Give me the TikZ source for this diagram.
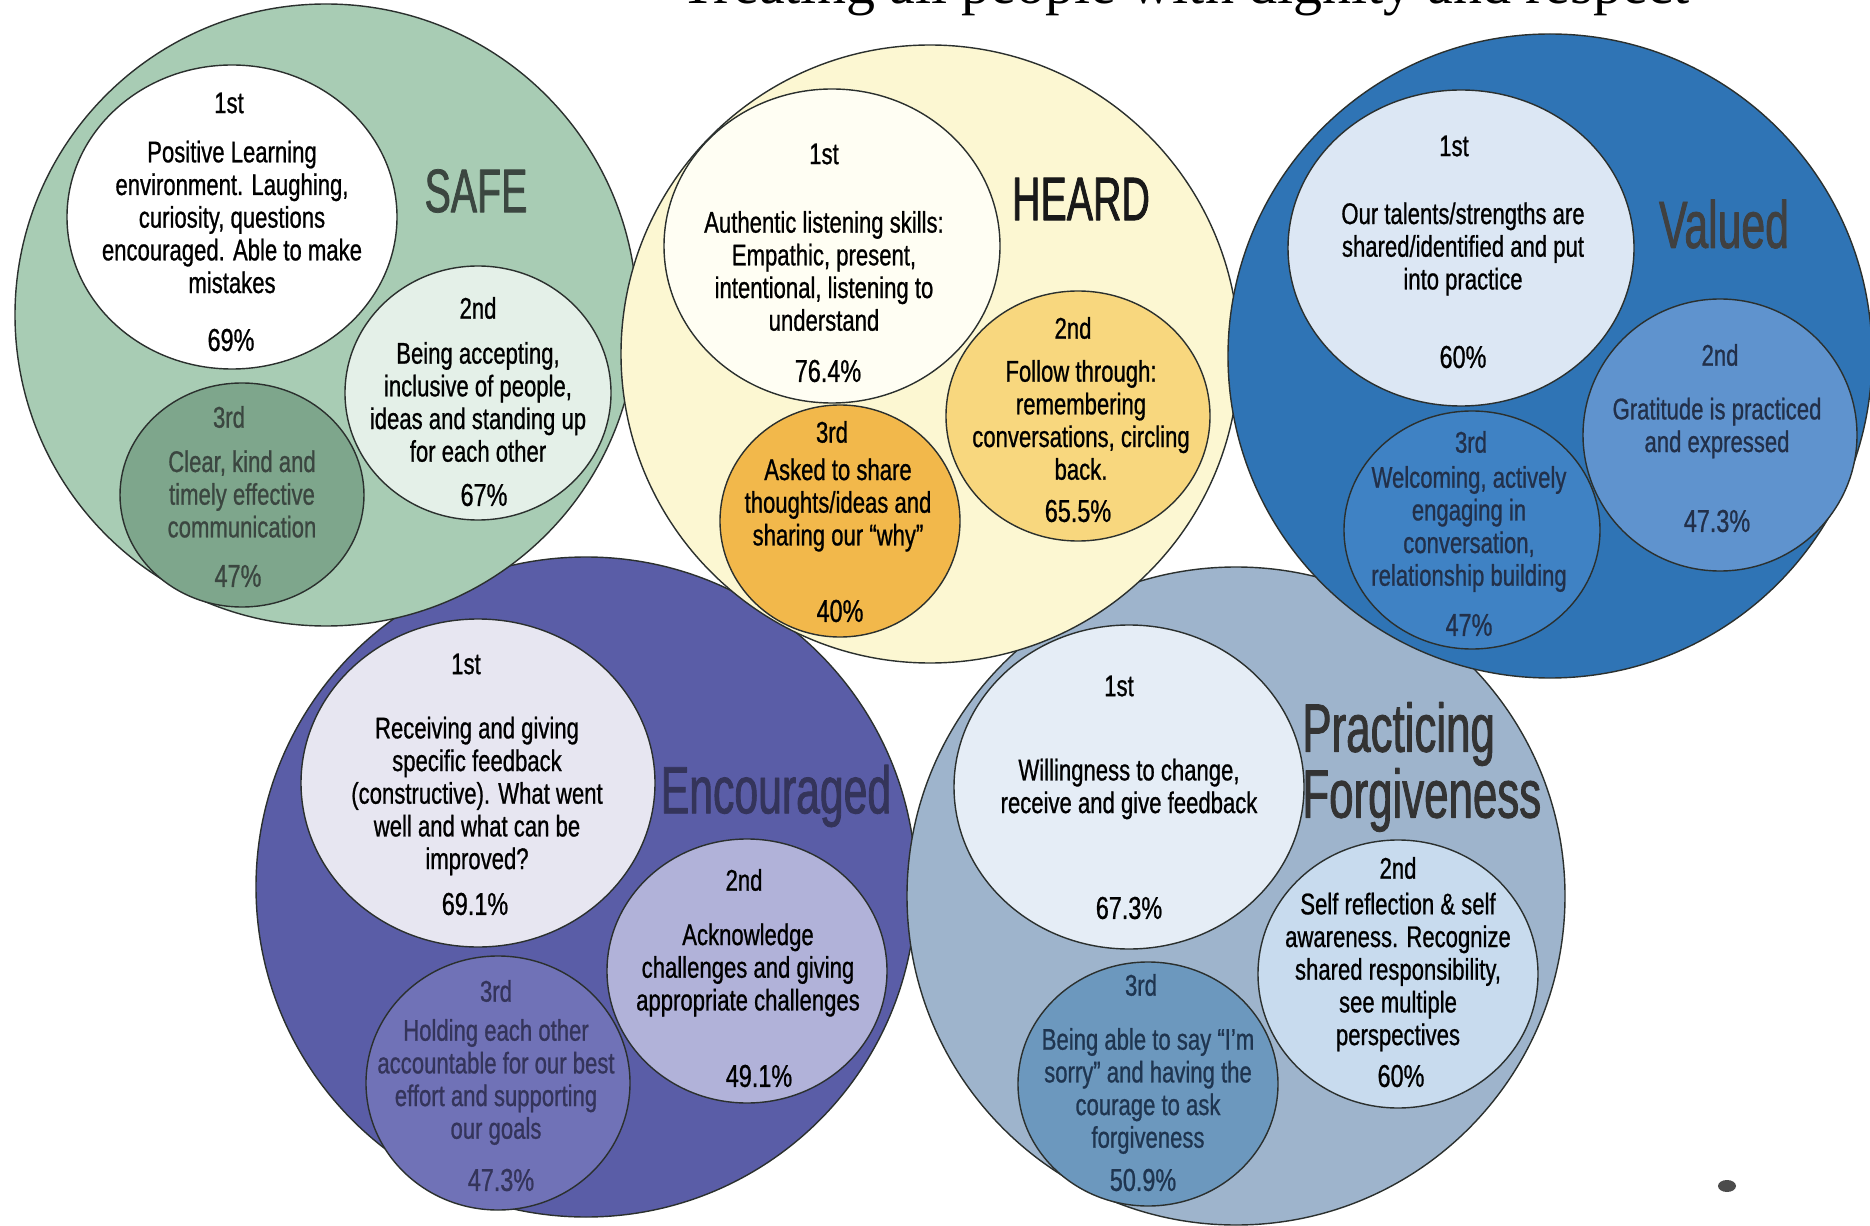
\documentclass[tikz,border=0pt]{standalone}
\usepackage{fontspec}
\setmainfont{Liberation Sans}[FakeStretch=0.74,FakeBold=0.8]
\newfontfamily\themefont{Liberation Sans}[FakeStretch=0.64,FakeBold=1.2]
\newfontfamily\titlefont{Liberation Serif}

\definecolor{rim}{HTML}{2B302E}
\definecolor{safeBig}{HTML}{A8CCB4}
\definecolor{safeTwo}{HTML}{E4F0E8}
\definecolor{safeThree}{HTML}{7EA68C}
\definecolor{safeInk}{HTML}{3B4640}
\definecolor{heardBig}{HTML}{FCF7D2}
\definecolor{heardOne}{HTML}{FFFEF3}
\definecolor{heardTwo}{HTML}{F8D77E}
\definecolor{heardThree}{HTML}{F2B84B}
\definecolor{valuedBig}{HTML}{2F74B5}
\definecolor{valuedOne}{HTML}{DCE7F4}
\definecolor{valuedTwo}{HTML}{5F93CE}
\definecolor{valuedThree}{HTML}{3F82C4}
\definecolor{valuedInk}{HTML}{22304A}
\definecolor{encBig}{HTML}{5A5DA7}
\definecolor{encOne}{HTML}{E7E6F1}
\definecolor{encTwo}{HTML}{B1B2D9}
\definecolor{encThree}{HTML}{7072B7}
\definecolor{encInk}{HTML}{34345A}
\definecolor{pfBig}{HTML}{9EB4CC}
\definecolor{pfOne}{HTML}{E5EDF6}
\definecolor{pfTwo}{HTML}{C8DBEE}
\definecolor{pfThree}{HTML}{6C98BE}
\definecolor{pfInk}{HTML}{1F3550}

\begin{document}
\begin{tikzpicture}[x=0.02cm,y=-0.02cm,line join=round,line cap=round,
	bubble/.style={draw=rim,line width=0.8pt},
	rank/.style={inner sep=0pt,font=\fontsize{17}{18.6}\selectfont},
	note/.style={inner sep=0pt,align=center,font=\fontsize{17}{18.6}\selectfont},
	share/.style={inner sep=0pt,font=\fontsize{18}{19}\selectfont},
	theme/.style={inner sep=0pt,font=\themefont\fontsize{35}{38}\selectfont}]
	\useasboundingbox (0,0) rectangle (1870,1226);
	\clip (0,0) rectangle (1870,1226);
	\fill[white] (0,0) rectangle (1870,1226);
	\node[font=\titlefont\fontsize{33}{36}\selectfont,anchor=base east,inner sep=0pt] (title) at (1690,4) {Treating all people with dignity and respect};
	% Encouraged
	\draw[bubble,fill=encBig] (586,887) circle[radius=330];
	\draw[bubble,fill=encOne] (478,783) ellipse[x radius=177,y radius=164];
	\draw[bubble,fill=encThree] (498,1083) ellipse[x radius=132,y radius=127];
	\draw[bubble,fill=encTwo] (747,971) ellipse[x radius=140,y radius=132];
	\node[theme,text=encInk,font=\themefont\fontsize{38}{40}\selectfont] (enc) at (776,796) {Encouraged};
	\node[rank] (enc1) at (466,664) {1st};
	\node[note] (enc1txt) at (477,796) {Receiving and giving\\specific feedback\\(constructive). What went\\well and what can be\\improved?};
	\node[share] (enc1pc) at (475,904) {69.1\%};
	\node[rank] (enc2) at (744,880) {2nd};
	\node[note] (enc2txt) at (748,970) {Acknowledge\\challenges and giving\\appropriate challenges};
	\node[share] (enc2pc) at (759,1076) {49.1\%};
	\node[rank,text=encInk] (enc3) at (496,991) {3rd};
	\node[note,text=encInk] (enc3txt) at (496,1082) {Holding each other\\accountable for our best\\effort and supporting\\our goals};
	\node[share,text=encInk] (enc3pc) at (501,1180) {47.3\%};
	% Practicing Forgiveness
	\draw[bubble,fill=pfBig] (1236,896) circle[radius=329];
	\draw[bubble,fill=pfOne] (1129,787) ellipse[x radius=175,y radius=162];
	\draw[bubble,fill=pfThree] (1148,1084) ellipse[x radius=130,y radius=122];
	\draw[bubble,fill=pfTwo] (1398,974) ellipse[x radius=140,y radius=134];
	\node[theme,text=black!80,align=left,anchor=west,font=\themefont\fontsize{39}{37.5}\selectfont] (pf) at (1302,767) {Practicing\\Forgiveness};
	\node[rank] (pf1) at (1119,686) {1st};
	\node[note] (pf1txt) at (1129,789) {Willingness to change,\\receive and give feedback};
	\node[share] (pf1pc) at (1129,908) {67.3\%};
	\node[rank] (pf2) at (1398,868) {2nd};
	\node[note] (pf2txt) at (1398,972) {Self reflection \& self\\awareness. Recognize\\shared responsibility,\\see multiple\\perspectives};
	\node[share] (pf2pc) at (1401,1076) {60\%};
	\node[rank,text=pfInk] (pf3) at (1141,985) {3rd};
	\node[note,text=pfInk] (pf3txt) at (1148,1091) {Being able to say ``I'm\\sorry'' and having the\\courage to ask\\forgiveness};
	\node[share,text=pfInk] (pf3pc) at (1143,1180) {50.9\%};
	% SAFE
	\draw[bubble,fill=safeBig] (326,315) circle[radius=311];
	\draw[bubble,fill=white] (232,217) ellipse[x radius=165,y radius=152];
	\draw[bubble,fill=safeThree] (242,495) ellipse[x radius=122,y radius=112];
	\draw[bubble,fill=safeTwo] (478,393) ellipse[x radius=133,y radius=127];
	\node[theme,text=safeInk] (safe) at (476,191) {SAFE};
	\node[rank] (safe1) at (229,103) {1st};
	\node[note] (safe1txt) at (232,217) {Positive Learning\\environment. Laughing,\\curiosity, questions\\encouraged. Able to make\\mistakes};
	\node[share] (safe1pc) at (231,340) {69\%};
	\node[rank] (safe2) at (478,308) {2nd};
	\node[note] (safe2txt) at (478,402) {Being accepting,\\inclusive of people,\\ideas and standing up\\for each other};
	\node[share] (safe2pc) at (484,495) {67\%};
	\node[rank,text=safeInk] (safe3) at (229,417) {3rd};
	\node[note,text=safeInk] (safe3txt) at (242,494) {Clear, kind and\\timely effective\\communication};
	\node[share,text=safeInk] (safe3pc) at (238,576) {47\%};
	% HEARD
	\draw[bubble,fill=heardBig] (930,354) circle[radius=309];
	\draw[bubble,fill=heardOne] (832,246) ellipse[x radius=168,y radius=157];
	\draw[bubble,fill=heardThree] (840,521) ellipse[x radius=120,y radius=116];
	\draw[bubble,fill=heardTwo] (1078,416) ellipse[x radius=132,y radius=125];
	\node[theme,text=black!90] (heard) at (1081,199) {HEARD};
	\node[rank] (heard1) at (824,154) {1st};
	\node[note] (heard1txt) at (824,271) {Authentic listening skills:\\Empathic, present,\\intentional, listening to\\understand};
	\node[share] (heard1pc) at (828,371) {76.4\%};
	\node[rank] (heard2) at (1073,328) {2nd};
	\node[note] (heard2txt) at (1081,420) {Follow through:\\remembering\\conversations, circling\\back.};
	\node[share] (heard2pc) at (1078,511) {65.5\%};
	\node[rank] (heard3) at (832,432) {3rd};
	\node[note] (heard3txt) at (838,505) {Asked to share\\thoughts/ideas and\\sharing our ``why''};
	\node[share] (heard3pc) at (840,611) {40\%};
	% Valued
	\draw[bubble,fill=valuedBig] (1550,356) circle[radius=322];
	\draw[bubble,fill=valuedOne] (1461,248) ellipse[x radius=173,y radius=158];
	\draw[bubble,fill=valuedThree] (1472,530) ellipse[x radius=128,y radius=119];
	\draw[bubble,fill=valuedTwo] (1720,435) ellipse[x radius=137,y radius=136];
	\node[theme,text=black!75,font=\themefont\fontsize{38}{40}\selectfont] (valued) at (1724,224) {Valued};
	\node[rank] (valued1) at (1454,146) {1st};
	\node[note] (valued1txt) at (1463,249) {Our talents/strengths are\\shared/identified and put\\into practice};
	\node[share] (valued1pc) at (1463,357) {60\%};
	\node[rank,text=valuedInk] (valued2) at (1720,355) {2nd};
	\node[note,text=valuedInk] (valued2txt) at (1717,428) {Gratitude is practiced\\and expressed};
	\node[share,text=valuedInk] (valued2pc) at (1717,521) {47.3\%};
	\node[rank,text=valuedInk] (valued3) at (1471,442) {3rd};
	\node[note,text=valuedInk] (valued3txt) at (1469,529) {Welcoming, actively\\engaging in\\conversation,\\relationship building};
	\node[share,text=valuedInk] (valued3pc) at (1469,625) {47\%};
	\fill[black!70] (1727,1186) ellipse[x radius=9,y radius=6];
\end{tikzpicture}
\end{document}
